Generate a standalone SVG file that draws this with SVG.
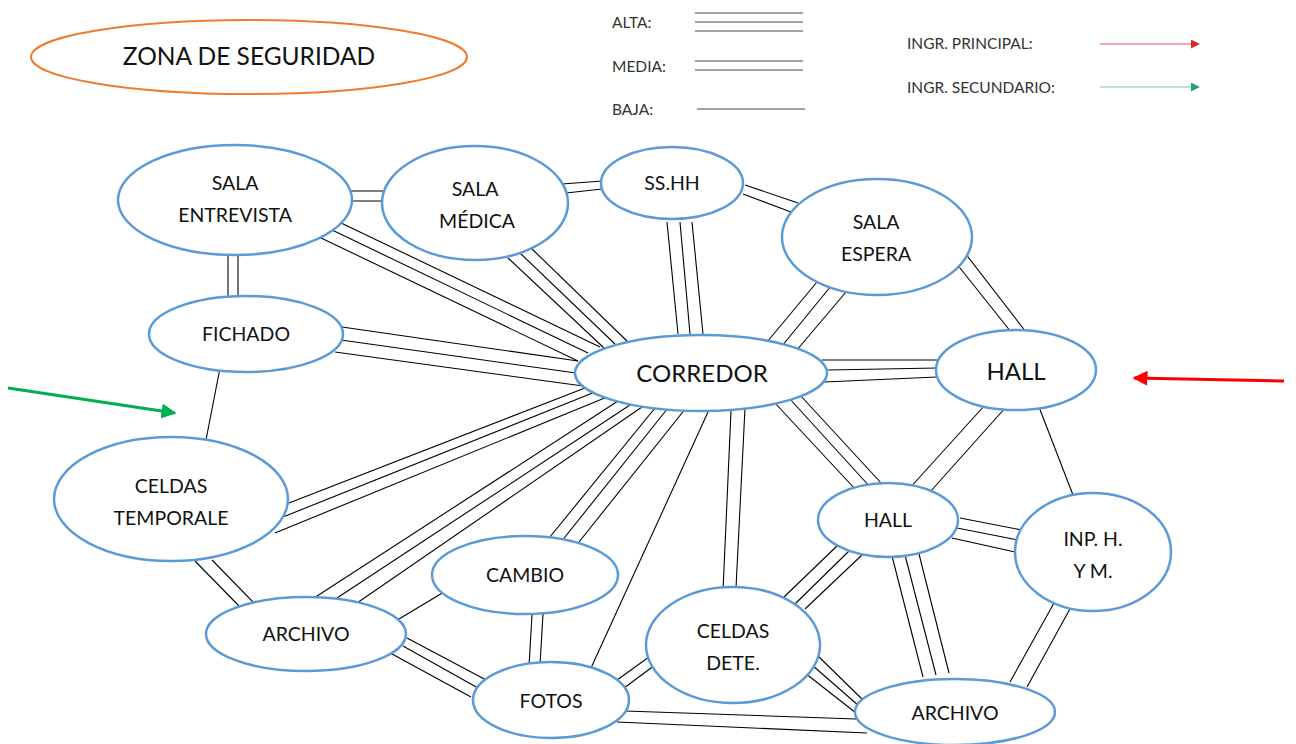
<svg xmlns="http://www.w3.org/2000/svg" width="1296" height="744" viewBox="0 0 1296 744">
<defs>
<style>
.n{fill:#fff;stroke:#5B9BD5;stroke-width:2.5}
.t{font-family:Lato,"Open Sans","Liberation Sans",sans-serif;font-size:19.5px;fill:#111;text-anchor:middle}
.tb{font-size:24px}
.c line{stroke:#000;stroke-width:1.1}
.lg{font-family:Lato,"Open Sans","Liberation Sans",sans-serif;font-size:15.5px;fill:#333}
.ll{stroke:#444;stroke-width:1.2}
</style>
<marker id="ar" viewBox="0 0 10 10" refX="9" refY="5" markerWidth="5" markerHeight="5" orient="auto"><path d="M0,0L10,5L0,10z" fill="#FF0000"/></marker>
<marker id="ag" viewBox="0 0 10 10" refX="9" refY="5" markerWidth="5" markerHeight="5" orient="auto"><path d="M0,0L10,5L0,10z" fill="#00B050"/></marker>
<marker id="lr" viewBox="0 0 10 10" refX="9" refY="5" markerWidth="9" markerHeight="9" orient="auto"><path d="M0,0L10,5L0,10z" fill="#D8262F"/></marker>
<marker id="lgm" viewBox="0 0 10 10" refX="9" refY="5" markerWidth="9" markerHeight="9" orient="auto"><path d="M0,0L10,5L0,10z" fill="#2A9D78"/></marker>
</defs>
<rect width="1296" height="744" fill="#fff"/>

<g id="zona">
<ellipse cx="249" cy="57" rx="218" ry="37" fill="none" stroke="#ED7D31" stroke-width="2"/>
<text class="t" x="249" y="65" style="font-size:24.5px">ZONA DE SEGURIDAD</text>
</g>

<g id="legend">
<text class="lg" x="612" y="28">ALTA:</text>
<line class="ll" x1="695" y1="13" x2="803" y2="13"/>
<line class="ll" x1="695" y1="22" x2="803" y2="22"/>
<line class="ll" x1="695" y1="31" x2="803" y2="31"/>
<text class="lg" x="612" y="72">MEDIA:</text>
<line class="ll" x1="695" y1="61" x2="803" y2="61"/>
<line class="ll" x1="695" y1="70" x2="803" y2="70"/>
<text class="lg" x="612" y="115">BAJA:</text>
<line class="ll" x1="697" y1="109" x2="805" y2="109"/>
<text class="lg" x="907" y="49">INGR. PRINCIPAL:</text>
<line x1="1100" y1="44" x2="1199" y2="44" stroke="#E8505A" stroke-width="1" marker-end="url(#lr)"/>
<text class="lg" x="907" y="93">INGR. SECUNDARIO:</text>
<line x1="1100" y1="87" x2="1199" y2="87" stroke="#7CC8AE" stroke-width="1" marker-end="url(#lgm)"/>
</g>

<g id="connectors" class="c">
<line x1="350" y1="191" x2="384" y2="191"/><line x1="351" y1="201" x2="384" y2="201"/>
<line x1="562" y1="184" x2="602" y2="181"/><line x1="566" y1="193" x2="602" y2="189"/>
<line x1="745" y1="185" x2="798" y2="203"/><line x1="743" y1="194" x2="791" y2="212"/>
<line x1="667" y1="222" x2="678" y2="334"/><line x1="680" y1="222" x2="690" y2="334"/><line x1="692" y1="222" x2="703" y2="334"/>
<line x1="339" y1="222" x2="600" y2="347"/><line x1="330" y1="229" x2="588" y2="353"/><line x1="319" y1="237" x2="578" y2="361"/>
<line x1="531" y1="248" x2="627" y2="341"/><line x1="520" y1="253" x2="615" y2="344"/><line x1="508" y1="258" x2="604" y2="348"/>
<line x1="228" y1="255" x2="228" y2="299"/><line x1="238" y1="255" x2="238" y2="299"/>
<line x1="342" y1="327" x2="578" y2="361"/><line x1="341" y1="340" x2="576" y2="373"/><line x1="335" y1="352" x2="583" y2="386"/>
<line x1="220" y1="368" x2="205" y2="445"/>
<line x1="817" y1="282" x2="767" y2="342"/><line x1="831" y1="286" x2="782" y2="346"/><line x1="846" y1="292" x2="796" y2="351"/>
<line x1="965" y1="253" x2="1026" y2="332"/><line x1="956" y1="263" x2="1011" y2="332"/>
<line x1="822" y1="360" x2="937" y2="360"/><line x1="828" y1="370" x2="937" y2="368"/><line x1="824" y1="382" x2="937" y2="377"/>
<line x1="774" y1="402" x2="856" y2="490"/><line x1="789" y1="398" x2="871" y2="488"/><line x1="800" y1="395" x2="882" y2="484"/>
<line x1="985" y1="405" x2="908" y2="490"/><line x1="1006" y1="407" x2="930" y2="492"/>
<line x1="1039" y1="407" x2="1073" y2="495"/>
<line x1="960" y1="518" x2="1022" y2="530"/><line x1="957" y1="528" x2="1018" y2="540"/><line x1="952" y1="538" x2="1015" y2="552"/>
<line x1="892" y1="556" x2="923" y2="677"/><line x1="905" y1="555" x2="936" y2="675"/><line x1="919" y1="554" x2="949" y2="673"/>
<line x1="838" y1="545" x2="784" y2="597"/><line x1="849" y1="551" x2="795" y2="604"/><line x1="863" y1="554" x2="805" y2="609"/>
<line x1="1054" y1="603" x2="1010" y2="682"/><line x1="1071" y1="607" x2="1027" y2="687"/>
<line x1="731" y1="411" x2="723" y2="591"/><line x1="745" y1="408" x2="736" y2="588"/>
<line x1="708" y1="412" x2="591" y2="668"/>
<line x1="649" y1="657" x2="617" y2="680"/><line x1="655" y1="665" x2="624" y2="688"/>
<line x1="817" y1="655" x2="863" y2="700"/><line x1="812" y1="665" x2="859" y2="706"/><line x1="805" y1="673" x2="856" y2="713"/>
<line x1="625" y1="711" x2="856" y2="719"/><line x1="617" y1="722" x2="867" y2="733"/>
<line x1="532" y1="615" x2="529" y2="666"/><line x1="543" y1="614" x2="540" y2="665"/>
<line x1="407" y1="638" x2="488" y2="681"/><line x1="403" y1="646" x2="478" y2="688"/><line x1="392" y1="654" x2="471" y2="697"/>
<line x1="399" y1="619" x2="444" y2="592"/>
<line x1="195" y1="561" x2="239" y2="606"/><line x1="212" y1="560" x2="256" y2="605"/>
<line x1="289" y1="503" x2="585" y2="388"/><line x1="283" y1="517" x2="595" y2="392"/><line x1="275" y1="533" x2="607" y2="397"/>
<line x1="314" y1="598" x2="618" y2="401"/><line x1="337" y1="598" x2="630" y2="405"/><line x1="357" y1="603" x2="642" y2="407"/>
<line x1="545" y1="543" x2="655" y2="408"/><line x1="561" y1="542" x2="668" y2="408"/><line x1="579" y1="542" x2="686" y2="408"/>
</g>

<g id="arrows">
<line x1="1284" y1="381" x2="1134" y2="378" stroke="#FF0000" stroke-width="3" marker-end="url(#ar)"/>
<line x1="8" y1="388" x2="175" y2="413" stroke="#00B050" stroke-width="3" marker-end="url(#ag)"/>
</g>

<g id="sala-entrevista"><ellipse class="n" cx="235" cy="200" rx="117" ry="55"/><text class="t" x="235" y="190">SALA</text><text class="t" x="235" y="222">ENTREVISTA</text></g>
<g id="sala-medica"><ellipse class="n" cx="475" cy="203" rx="93" ry="57"/><text class="t" x="475" y="196">SALA</text><text class="t" x="477" y="228">MÉDICA</text></g>
<g id="sshh"><ellipse class="n" cx="672" cy="183" rx="71" ry="36"/><text class="t" x="672" y="190">SS.HH</text></g>
<g id="sala-espera"><ellipse class="n" cx="877" cy="237" rx="95" ry="58"/><text class="t" x="876" y="229">SALA</text><text class="t" x="876" y="261">ESPERA</text></g>
<g id="fichado"><ellipse class="n" cx="246" cy="334" rx="97" ry="38"/><text class="t" x="246" y="341">FICHADO</text></g>
<g id="corredor"><ellipse class="n" cx="701" cy="373" rx="126" ry="38"/><text class="t tb" x="702" y="382">CORREDOR</text></g>
<g id="hall"><ellipse class="n" cx="1016" cy="370" rx="80" ry="40"/><text class="t tb" x="1016" y="380">HALL</text></g>
<g id="celdas-temporale"><ellipse class="n" cx="171" cy="499" rx="117" ry="62"/><text class="t" x="171" y="493">CELDAS</text><text class="t" x="171" y="525">TEMPORALE</text></g>
<g id="cambio"><ellipse class="n" cx="525" cy="575" rx="93" ry="39"/><text class="t" x="525" y="582">CAMBIO</text></g>
<g id="archivo-1"><ellipse class="n" cx="306" cy="634" rx="100" ry="37"/><text class="t" x="306" y="641">ARCHIVO</text></g>
<g id="hall-2"><ellipse class="n" cx="888" cy="520" rx="70" ry="37"/><text class="t" x="888" y="527">HALL</text></g>
<g id="inp"><ellipse class="n" cx="1093" cy="552" rx="78" ry="59"/><text class="t" x="1093" y="546">INP. H.</text><text class="t" x="1093" y="578">Y M.</text></g>
<g id="celdas-dete"><ellipse class="n" cx="733" cy="645" rx="87" ry="58"/><text class="t" x="733" y="638">CELDAS</text><text class="t" x="733" y="670">DETE.</text></g>
<g id="fotos"><ellipse class="n" cx="551" cy="700" rx="78" ry="38"/><text class="t" x="551" y="708">FOTOS</text></g>
<g id="archivo-2"><ellipse class="n" cx="955" cy="712" rx="100" ry="33"/><text class="t" x="955" y="720">ARCHIVO</text></g>
</svg>
